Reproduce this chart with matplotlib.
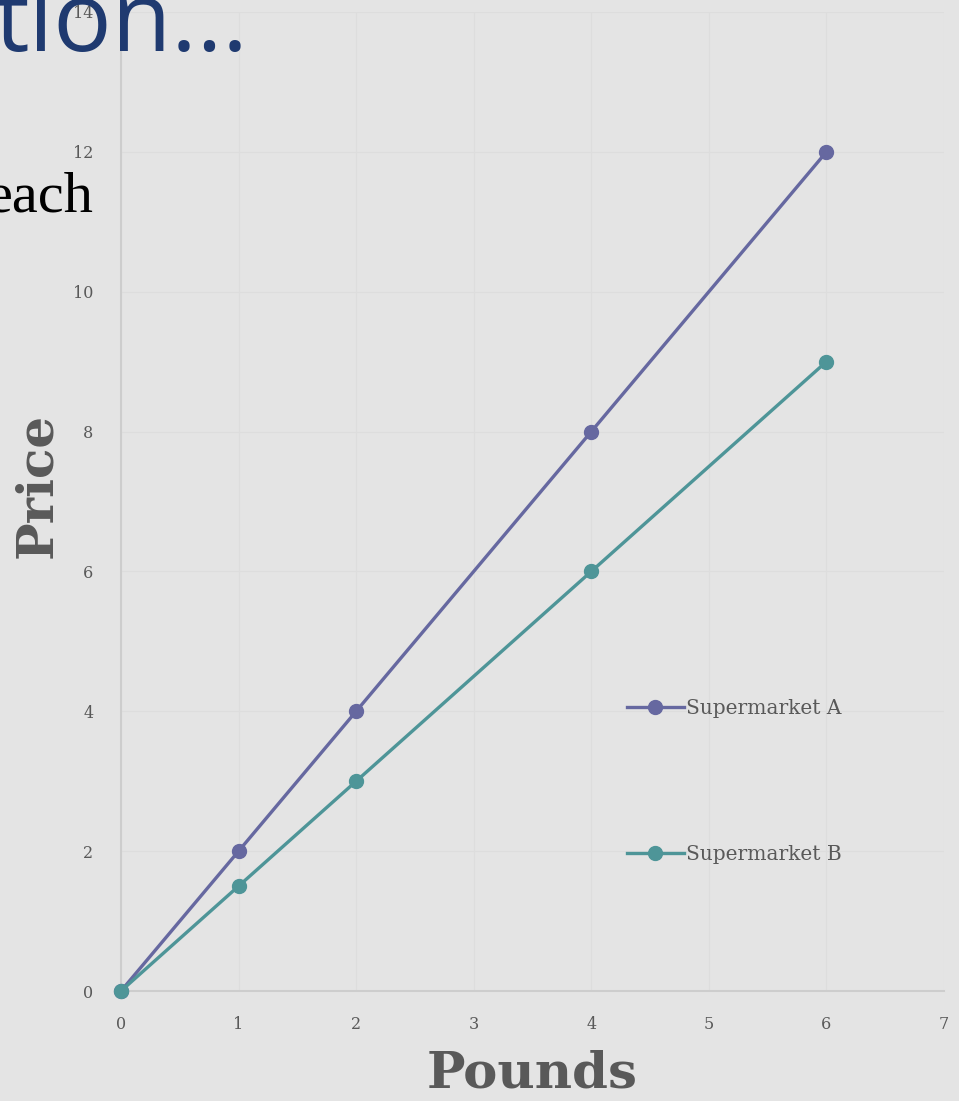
import matplotlib.pyplot as plt

# data
pounds = [0, 1, 2, 4, 6]
price_a = [0, 2, 4, 8, 12]
price_b = [0, 1.5, 3, 6, 9]
series_names = ["Supermarket A", "Supermarket B"]
x_ticks = [0, 1, 2, 3, 4, 5, 6, 7]
y_ticks = [0, 2, 4, 6, 8, 10, 12, 14]

bg = "#e4e4e4"
col_a = "#6668a0"
col_b = "#4e9598"
txt = "#595959"
serif = "DejaVu Serif"

fig = plt.figure(figsize=(9.59, 11.01), dpi=100, facecolor=bg)
ax = fig.add_axes([121 / 959, 1 - 991 / 1101, (944 - 121) / 959, (991 - 12) / 1101])
ax.set_facecolor(bg)

# slide text behind the chart
fig.text(-0.006, 0.954, "tion...", fontsize=70, color="#1f3a70", family="Open Sans",
         ha="left", va="baseline", zorder=0)
fig.text(-0.014, 0.808, "each", fontsize=42, color="black", family="Liberation Serif",
         ha="left", va="baseline", zorder=0)

ax.plot(pounds, price_a, color=col_a, lw=2.4, marker="o", ms=10, label=series_names[0],
        clip_on=False, zorder=3)
ax.plot(pounds, price_b, color=col_b, lw=2.4, marker="o", ms=10, label=series_names[1],
        clip_on=False, zorder=4)

ax.set_xlim(0, 7)
ax.set_ylim(0, 14)
ax.set_xticks(x_ticks)
ax.set_yticks(y_ticks)
ax.grid(True, color="#dddddd", lw=0.9)
ax.set_axisbelow(True)
for s in ["top", "right"]:
    ax.spines[s].set_visible(False)
for s in ["left", "bottom"]:
    ax.spines[s].set_color("#cdcdcd")
    ax.spines[s].set_linewidth(1.5)
ax.tick_params(length=0, labelsize=11.5, labelcolor=txt)
ax.tick_params(axis="y", pad=20)
ax.tick_params(axis="x", pad=18)
for lab in ax.get_xticklabels() + ax.get_yticklabels():
    lab.set_family(serif)

ax.set_xlabel("Pounds", fontsize=37, fontweight="bold", color=txt,
              family=serif, labelpad=12)
ax.set_ylabel("Price", fontsize=36, fontweight="bold", color=txt,
              family=serif)
ax.yaxis.set_label_coords(-0.071, 0.516)

leg = ax.legend(loc="upper left", bbox_to_anchor=(0.615, 0.298), frameon=False,
                borderpad=0, borderaxespad=0,
                labelspacing=6.3, handlelength=2.8, handletextpad=0.1,
                prop={"family": serif, "size": 14.5})
for t in leg.get_texts():
    t.set_color(txt)

fig.savefig("out.png", dpi=100, facecolor=bg)
